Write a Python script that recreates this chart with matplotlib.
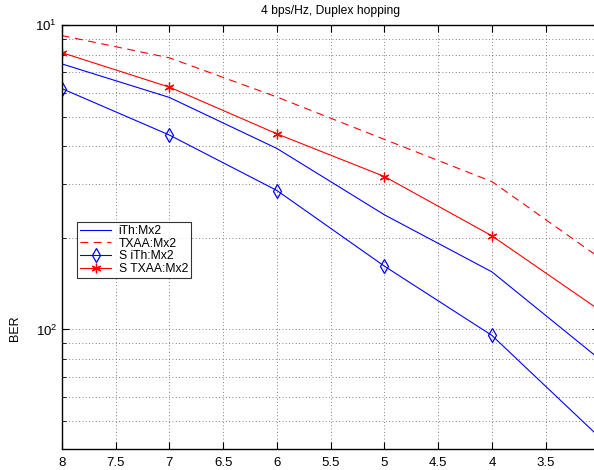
import matplotlib
matplotlib.use("Agg")
import matplotlib.pyplot as plt
from matplotlib.ticker import FixedLocator, FixedFormatter, LogLocator, NullFormatter

plt.rcParams['font.family'] = ['Liberation Sans', 'DejaVu Sans']
plt.rcParams['mathtext.default'] = 'regular'

x = [8, 7, 6, 5, 4, 3]
ith = [0.0745, 0.0578, 0.0393, 0.0238, 0.01546, 0.0080]
txaa = [0.0923, 0.078, 0.058, 0.0421, 0.0306, 0.01722]
s_ith = [0.0618, 0.0435, 0.0286, 0.01614, 0.00956, 0.00443]
s_txaa = [0.0811, 0.0625, 0.0439, 0.0318, 0.0203, 0.01159]

xticks = [8, 7.5, 7, 6.5, 6, 5.5, 5, 4.5, 4, 3.5, 3]
xticklabels = ['8', '7.5', '7', '6.5', '6', '5.5', '5', '4.5', '4', '3.5', '3']
yticks = [0.01, 0.1]
yticklabels = ['$10^{2}$', '$10^{1}$']

fig = plt.figure(figsize=(5.94, 4.70), dpi=100)
ax = fig.add_axes([62/594, 21/470, 537.4/594, 424/470])

marked = [0, 1, 2, 3, 4]
ax.plot(x, ith, color='#0000ff', lw=0.8, label='iTh:Mx2')
ax.plot(x, txaa, color='#ff0000', lw=0.8, dashes=(7, 5), label='TXAA:Mx2')
ax.plot(x, s_ith, color='#0000ff', lw=0.8, marker='d', ms=7, markevery=marked,
        mfc='none', mec='#0000ff', mew=0.9, label='S iTh:Mx2')
ax.plot(x, s_txaa, color='#ff0000', lw=0.8, marker=(6, 2, 0), ms=7, markevery=marked,
        mew=0.9, label='S TXAA:Mx2')

ax.set_yscale('log')
ax.set_xlim(8, 3)
ax.set_ylim(4.05e-3, 0.1)

ax.xaxis.set_major_locator(FixedLocator(xticks))
ax.xaxis.set_major_formatter(FixedFormatter(xticklabels))
ax.yaxis.set_major_locator(FixedLocator(yticks))
ax.yaxis.set_major_formatter(FixedFormatter(yticklabels))
ax.yaxis.set_minor_locator(LogLocator(base=10, subs=range(2, 10)))
ax.yaxis.set_minor_formatter(NullFormatter())

ax.tick_params(which='both', direction='in', top=True, right=True, labelsize=9.5)
ax.tick_params(which='major', length=5, width=0.8)
ax.tick_params(which='minor', length=3, width=0.6)
ax.tick_params(axis='x', pad=6)

ax.grid(True, which='major', linestyle=(0, (1, 3)), color='0.35', lw=0.6)
ax.grid(True, which='minor', axis='y', linestyle=(0, (1, 3)), color='0.35', lw=0.6)
for s in ax.spines.values():
    s.set_linewidth(1.0)

ax.set_title('4 bps/Hz, Duplex hopping', fontsize=8.7, pad=8)
fig.text(15/594, 1 - 328/470, 'BER', rotation=90, ha='center', va='center', fontsize=9)

leg = ax.legend(loc='upper left', bbox_to_anchor=((77-62)/537.4, (449-222)/424),
                fontsize=8.7, frameon=True, fancybox=False, edgecolor='black',
                borderpad=0.25, labelspacing=0.05, handlelength=2.6, handletextpad=0.6,
                borderaxespad=0, numpoints=1)
leg.get_frame().set_linewidth(0.8)

fig.savefig('out.png', dpi=100)
